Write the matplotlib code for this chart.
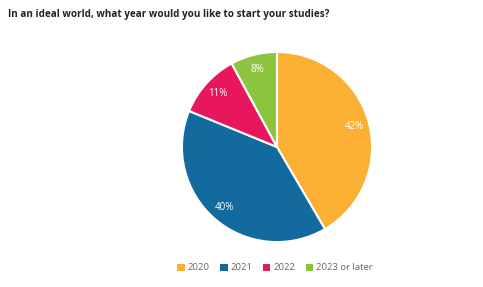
import matplotlib
matplotlib.use("Agg")
import matplotlib.pyplot as plt
from matplotlib.patches import Patch

plt.rcParams['font.family'] = ['Open Sans', 'DejaVu Sans']

categories = ["2020", "2021", "2022", "2023 or later"]
values = [42, 40, 11, 8]
colors = ["#FBB034", "#126A9E", "#E8175D", "#8CC43F"]
title = "In an ideal world, what year would you like to start your studies?"

W, H = 483, 287
fig = plt.figure(figsize=(W / 100, H / 100), dpi=100)
cx, cy, r = 277, 147, 96
ax = fig.add_axes([(cx - r) / W, (H - cy - r) / H, 2 * r / W, 2 * r / H])
wedges, texts, autotexts = ax.pie(
    values, colors=colors, startangle=90, counterclock=False,
    autopct="", pctdistance=0.84,
    wedgeprops=dict(edgecolor="white", linewidth=1.5), radius=1.0)
for at, v in zip(autotexts, values):
    at.set_text(f"{v}%")
    at.set_color("white")
    at.set_fontsize(7)
ax.set_xlim(-1.01, 1.01)
ax.set_ylim(-1.01, 1.01)
ax.set_aspect("equal")
ax.axis("off")

fig.text(8 / W, 1 - 15 / H, title, fontsize=7.1, fontweight="bold",
         color="#222222", ha="left", va="center")

handles = [Patch(facecolor=c, edgecolor="none") for c in colors]
fig.legend(handles, categories, loc="center", bbox_to_anchor=(275 / W, 1 - 268 / H),
           ncol=4, frameon=False, fontsize=6.8, labelcolor="#666666",
           handlelength=0.8, handleheight=0.8, handletextpad=0.3, columnspacing=1.1)

fig.savefig("out.png", dpi=100, facecolor="white")
